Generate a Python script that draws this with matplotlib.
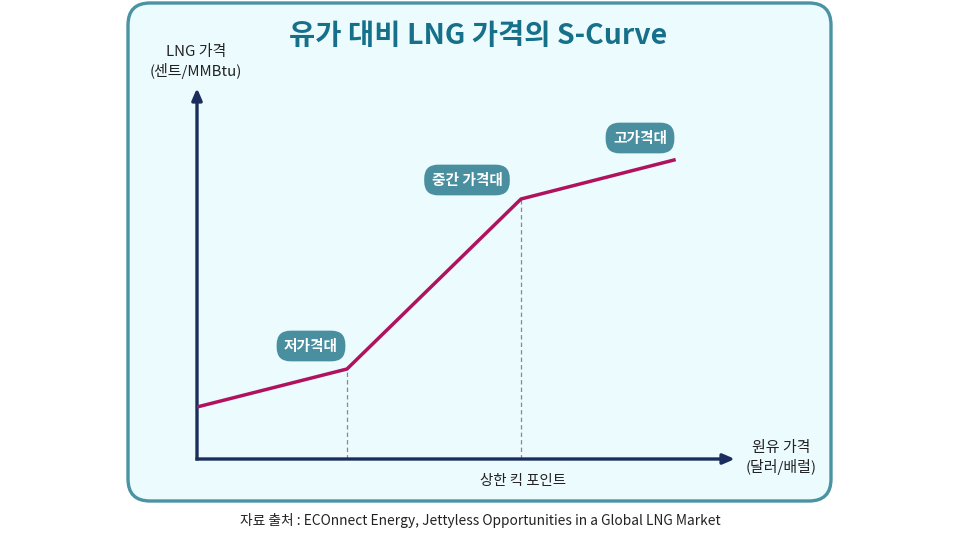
import matplotlib
matplotlib.use("Agg")
import matplotlib.pyplot as plt
from matplotlib.patches import FancyBboxPatch

plt.rcParams['font.family'] = ['Noto Sans CJK KR', 'DejaVu Sans']

# Data (arbitrary units)
oil_price = [0.0, 3.0, 6.48, 9.54]
lng_price = [1.04, 1.8, 5.2, 5.98]
kink_x = [3.0, 6.48]
kink_y = [1.8, 5.2]
band_labels = ["저가격대", "중간 가격대", "고가격대"]
band_label_pos = [(2.28, 2.26), (5.4, 5.58), (8.86, 6.42)]

title = "유가 대비 LNG 가격의 S-Curve"
y_label = "LNG 가격\n(센트/MMBtu)"
x_label = "원유 가격\n(달러/배럴)"
kick_label = "상한 킥 포인트"
source = "자료 출처 : ECOnnect Energy, Jettyless Opportunities in a Global LNG Market"

W, H = 960, 544
fig = plt.figure(figsize=(W / 100, H / 100), dpi=100)
fig.patch.set_facecolor('white')

# background rounded box
bg = fig.add_axes([0, 0, 1, 1])
bg.set_xlim(0, W)
bg.set_ylim(H, 0)
bg.axis('off')
box = FancyBboxPatch((128, 3), 703, 498, boxstyle="round,pad=0,rounding_size=22",
                     facecolor='#ebfbfe', edgecolor='#4a93a3', linewidth=2.4)
bg.add_patch(box)
bg.text(478, 36, title, ha='center', va='center', fontsize=20.5, fontweight='bold', color='#17708a')
bg.text(196, 62, y_label, ha='center', va='center', fontsize=10.8, color='#222222', linespacing=1.3)
bg.text(781, 458, x_label, ha='center', va='center', fontsize=10.8, color='#222222', linespacing=1.3)
bg.text(480, 521, source, ha='center', va='center', fontsize=9.9, color='#222222')

# plot axes: origin at pixel (197, 459), right 735, top 88
x0, y0, x1, y1 = 197, 459, 735, 88
ax = fig.add_axes([x0 / W, 1 - y0 / H, (x1 - x0) / W, (y0 - y1) / H])
ax.set_xlim(0, (x1 - x0) / 50)
ax.set_ylim(0, (y0 - y1) / 50)
ax.axis('off')
ax.patch.set_alpha(0)

navy = '#1b2d5c'
ax.annotate('', xy=(ax.get_xlim()[1], 0), xytext=(-0.03, 0),
            arrowprops=dict(arrowstyle='-|>,head_length=0.7,head_width=0.3', color=navy, lw=2.4,
                            shrinkA=0, shrinkB=0, capstyle='butt'), annotation_clip=False)
ax.annotate('', xy=(0, ax.get_ylim()[1]), xytext=(0, -0.03),
            arrowprops=dict(arrowstyle='-|>,head_length=0.7,head_width=0.3', color=navy, lw=2.4,
                            shrinkA=0, shrinkB=0, capstyle='butt'), annotation_clip=False)

for kx, ky in zip(kink_x, kink_y):
    ax.plot([kx, kx], [0, ky], color='#8a8a8a', lw=0.9, ls=(0, (3.5, 2.5)), zorder=2)

ax.plot(oil_price, lng_price, color='#b0125e', lw=2.5, solid_joinstyle='miter', zorder=3)

for lab, (lx, ly) in zip(band_labels, band_label_pos):
    ax.text(lx, ly, lab, ha='center', va='center', fontsize=10.6, fontweight='bold', color='white',
            bbox=dict(boxstyle='round,pad=0.5,rounding_size=0.95', facecolor='#4a8fa0', edgecolor='none'),
            zorder=4)

ax.text(6.52, -0.44, kick_label, ha='center', va='center', fontsize=10.4, color='#222222')

fig.savefig('out.png', dpi=100)
